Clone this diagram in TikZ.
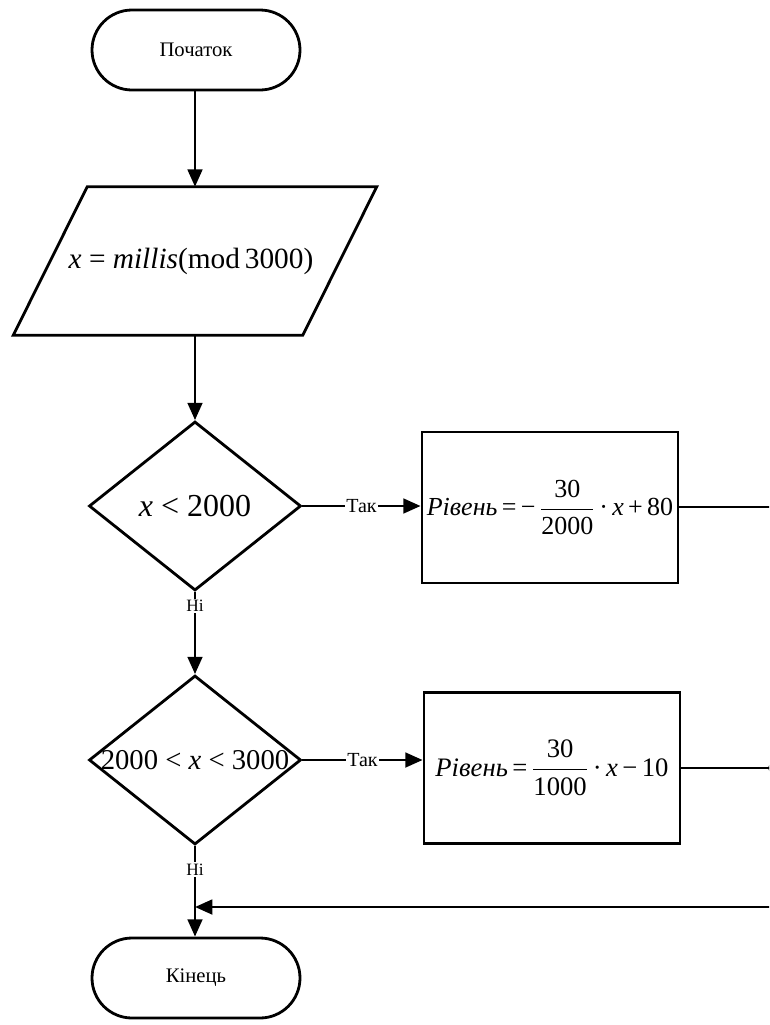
\documentclass[tikz,border=0pt]{standalone}
\usepackage{fontspec}
\setmainfont{Liberation Serif}
\usetikzlibrary{shapes.geometric,shapes.misc,arrows.meta,calc}

% stacked fraction set in the text font
\newcommand\stackfrac[2]{\ensuremath{\displaystyle{\hbox{#1}\above0.7pt\hbox{#2}}}}

\tikzset{
  line/.style={line width=2.1pt},
  flow/.style={line, -{Triangle[length=13pt,width=11pt]}},
  terminal/.style={rounded rectangle, draw, line width=2.1pt,
    minimum width=156pt, minimum height=60pt, inner sep=0pt, font=\fontsize{15.5}{18}\selectfont},
  iobox/.style={draw=none, minimum width=216.75pt, minimum height=111pt, inner sep=0pt,
    font=\fontsize{22}{26}\selectfont},
  decision/.style={diamond, draw, line width=2.1pt, minimum width=159pt, minimum height=126.75pt,
    inner sep=0pt},
  cond/.style={font=\fontsize{#1}{#1}\selectfont, inner sep=0pt},
  process/.style={rectangle, draw, line width=2.1pt, minimum width=192pt, minimum height=113.25pt,
    inner sep=0pt, font=\fontsize{19.5}{23}\selectfont},
  yes/.style={fill=white, inner sep=1pt, font=\fontsize{15}{17}\selectfont},
  no/.style={fill=white, inner sep=1pt, font=\fontsize{13}{15}\selectfont},
}

\begin{document}
\begin{tikzpicture}[x=0.75pt, y=-0.75pt]
\useasboundingbox (0,0) rectangle (769,1025);
\clip (0,0) rectangle (769,1025);

% blocks
\node[terminal] (start) at (196,50) {Початок};
\node[iobox] (io) at (195,261) {\hspace*{-6pt}\textit{x} = \textit{millis}(mod\,3000)};
\draw[line, line join=miter]
  ($(io.north west)+(37,0)$) -- ($(io.north east)+(37,0)$) --
  ($(io.south east)+(-37,0)$) -- ($(io.south west)+(-37,0)$) -- cycle;
\node[decision, label={[cond=24]center:\textit{x} < 2000}] (d1) at (195,506) {};
\node[decision, label={[cond=21.5]center:2000 < \textit{x} < 3000}] (d2) at (195,760) {};
\node[process] (b1) at (550,507.5)
  {\textit{Рівень}\,=\,−\,\stackfrac{30}{2000}\,·\,\textit{x}\,+\,80};
\node[process, font=\fontsize{20}{24}\selectfont] (b2) at (552,768)
  {\textit{Рівень}\,=\,\stackfrac{30}{1000}\,·\,\textit{x}\,−\,10};
\node[terminal] (end) at (196,978) {Кінець};

% loose ends at the right margin
\coordinate (r1) at (780,507);
\coordinate (r2) at (773,768);
\coordinate (r3) at (780,907);

% connectors
\draw[flow] (start.south -| io.north) -- (io.north);
\draw[flow] (io.south) -- (d1.north);
\draw[flow] (d1.east) -- node[yes]{Так} (d1.east -| b1.west);
\draw[line] (b1.east |- r1) -- (r1);
\draw[flow] (d1.south) -- node[no, pos=0.17]{Ні} (d2.north);
\draw[flow] (d2.east) -- node[yes]{Так} (d2.east -| b2.west);
\draw[line] (b2.east) -- (r2);
\fill (r2) circle (5);
\draw[flow] (d2.south) -- node[no, pos=0.26]{Ні} (d2.south |- end.north);
\draw[flow] (r3) -- (r3 -| d2.south);
\end{tikzpicture}
\end{document}
